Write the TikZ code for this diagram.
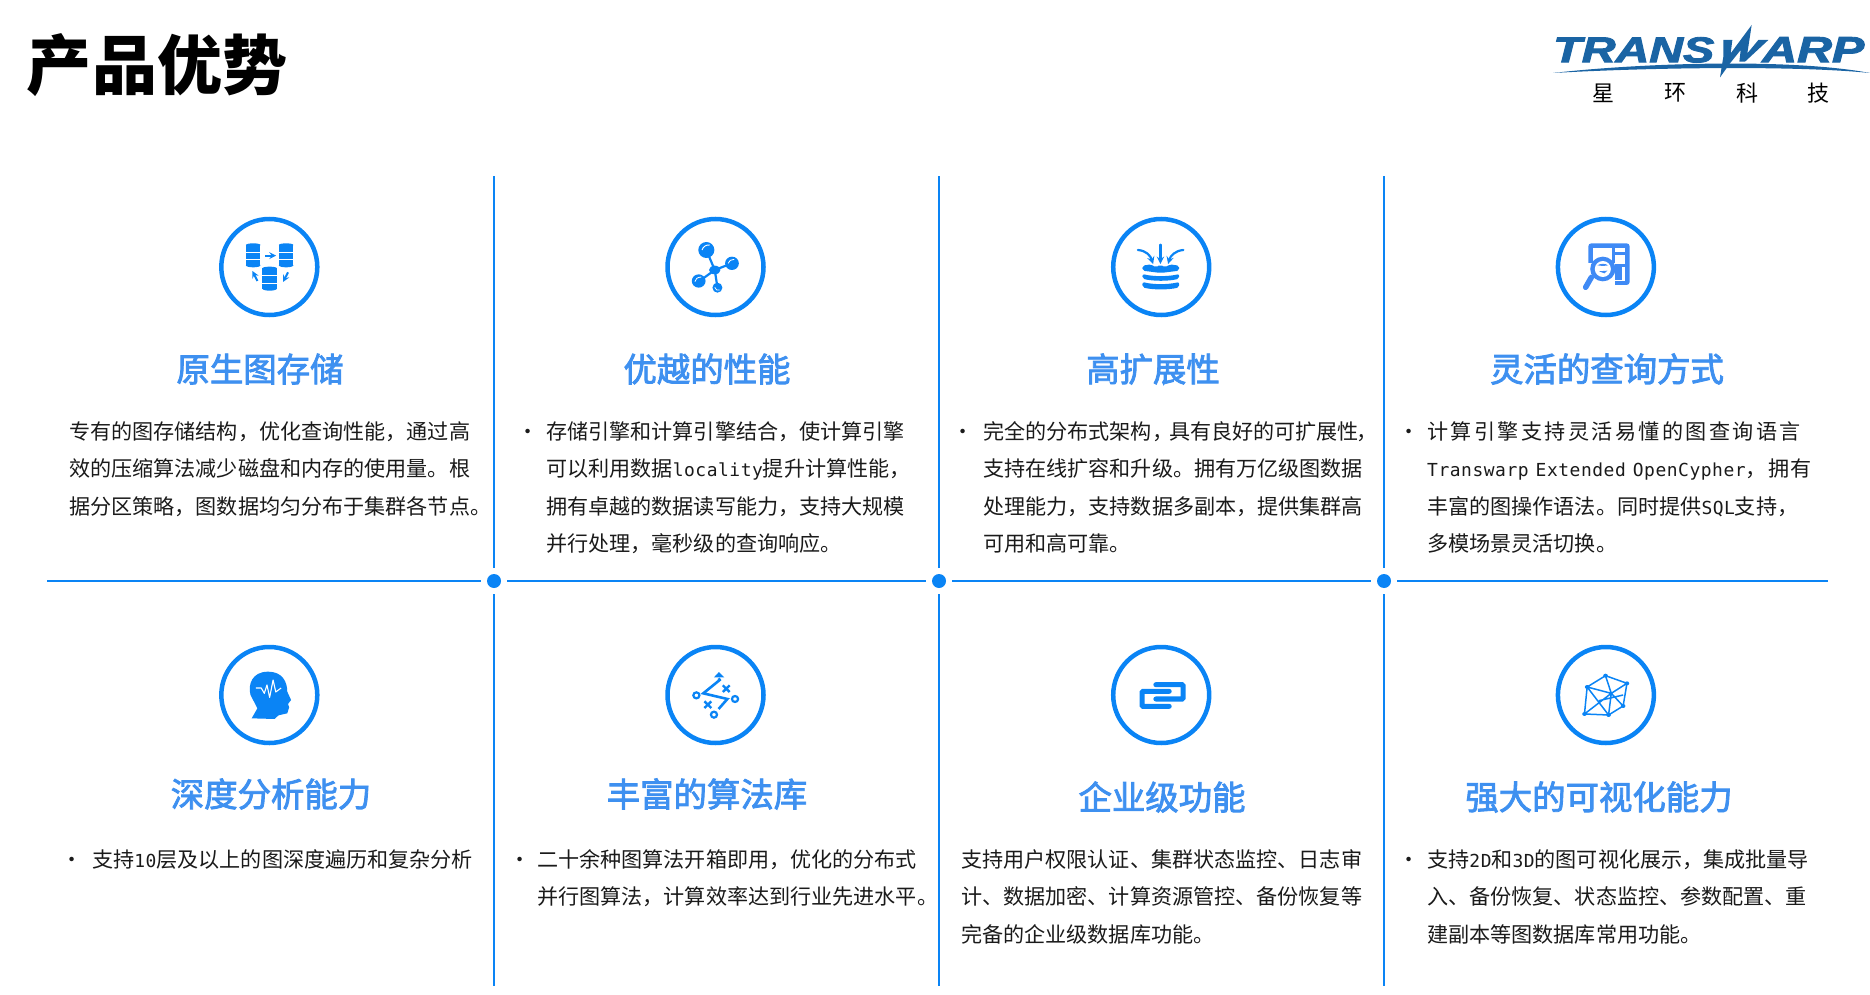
\documentclass[tikz,border=0pt]{standalone}
\usepackage{graphicx}
\usepackage{fontspec}
\setmainfont{Noto Sans CJK SC}
\newfontfamily\latf[Scale=0.85,LetterSpace=3]{DejaVu Sans Mono}
\newfontfamily\logof[BoldItalicFeatures={FakeBold=2.5}]{Liberation Sans}
\newfontfamily\headf[FakeBold=2.5]{Noto Sans CJK SC}
\XeTeXlinebreaklocale "zh"
\XeTeXlinebreakskip=0pt plus 5pt
\definecolor{line}{HTML}{0A84F5}
\definecolor{head}{HTML}{3E90F0}
\definecolor{logo}{HTML}{1A64A4}
\definecolor{txt}{HTML}{1A1A1A}
\newcommand{\fl}{\rule{0pt}{20pt}}
\newcommand{\latn}[1]{{\latf #1}}
\newcommand{\jl}[1]{{\parfillskip=0pt\noindent #1\par}}
\newcommand{\nl}[1]{{\noindent #1\par}}
\tikzset{
  sep/.style={draw=line,line width=2.4pt},
  dotn/.style={circle,fill=line,minimum size=14pt,inner sep=0pt,outer sep=6pt},
  ring/.style={circle,draw=line,line width=4.5pt,minimum size=96pt,inner sep=0pt},
  heading/.style={inner sep=0pt,text=head,font=\headf\fontsize{33.4}{38}\selectfont},
  body/.style={anchor=north west,inner sep=0pt,text=txt,text width=#1,font=\fontsize{21.1}{37.5}\selectfont},
  bul/.style={anchor=north west,inner sep=0pt,text=txt,font=\fontsize{21.1}{37.5}\selectfont},
  zoomA/.style={x=0.3827pt,y=-0.3333pt},
}
\begin{document}
\begin{tikzpicture}[x=1pt,y=-1pt]
\useasboundingbox (0,0) rectangle (1870,995);
% title + logo
\node[inner sep=0pt,font=\fontsize{65}{70}\selectfont\bfseries,text=black] (title) at (157,65) {产品优势};
\node[anchor=north west,inner sep=0pt,text=logo] (lg1) at (1553,37) {\resizebox{161pt}{25pt}{\logof\bfseries\itshape TRANS}};
\node[anchor=north west,inner sep=0pt,text=logo] (lg2) at (1762,37) {\resizebox{102pt}{25pt}{\logof\bfseries\itshape ARP}};
\begin{scope}[shift={(1690,20)},x=0.3333pt,y=-0.3333pt]
\fill[logo] (100,60)--(127,60)--(122,100)--(185,15)--(172,100)--(205,60)--(235,60)--(165,125)--(148,125)--(152,90)--(120,130)--(90,172)--(100,110)--cycle;
\end{scope}
\fill[logo] (1553,73) .. controls (1640,63) and (1790,58) .. (1870,73) .. controls (1790,65) and (1640,68) .. cycle;
\foreach \n/\x/\t in {a/1603/星,b/1675/环,c/1747/科,d/1818/技}
  \node[inner sep=0pt,font=\fontsize{22}{24}\selectfont] (lc\n) at (\x,93) {\t};
% separators
\foreach \n/\x in {1/494,2/939,3/1384} {
  \node[dotn] (d\n) at (\x,581) {};
  \coordinate (t\n) at (\x,176);
  \coordinate (b\n) at (\x,986);
  \draw[sep] (d\n) -- (t\n);
  \draw[sep] (d\n) -- (b\n);
}
\coordinate (hl) at (47,581);
\coordinate (hr) at (1828,581);
\draw[sep] (hl) -- (d1);
\draw[sep] (d1) -- (d2);
\draw[sep] (d2) -- (d3);
\draw[sep] (d3) -- (hr);
% rings
\foreach \n/\x/\y in {a/269.3/267,b/715.5/267,c/1161.2/267,d/1605.9/267,e/269.3/695,f/715.5/695,g/1161.2/695,h/1605.9/695}
  \node[ring] (r\n) at (\x,\y) {};
% icon 1: storage
\begin{scope}[shift={(200,200)},zoomA]
\foreach \a/\b in {120/130,206/130,163/200} {
  \fill[line] (\a,\b+5) rectangle (\a+38,\b+25);
  \fill[line] (\a+19,\b+5) ellipse (19 and 5);
  \fill[line] (\a,\b+28) rectangle (\a+38,\b+48);
  \fill[line] (\a,\b+51) rectangle (\a+38,\b+66);
  \fill[line] (\a+19,\b+66) ellipse (19 and 6);
}
\draw[line,line width=2pt,-stealth] (170,167) -- (199,167);
\draw[line,line width=2pt,-stealth] (150,243) -- (137,213);
\draw[line,line width=2pt,-stealth] (230,217) -- (217,246);
\end{scope}
% icon 2: molecule
\begin{scope}[shift={(200,200)},zoomA]
\draw[line,line width=2.2pt] (1345,210)--(1323,150) (1345,210)--(1390,190) (1345,210)--(1303,245) (1345,210)--(1352,262);
\fill[line] (1345,210) circle[x radius=15,y radius=13];
\fill[line] (1323,150) circle[x radius=21,y radius=24];
\fill[line] (1390,190) circle[x radius=18,y radius=20];
\fill[line] (1303,243) circle[x radius=18,y radius=20];
\fill[line] (1352,263) circle[x radius=13,y radius=15];
\draw[white,line width=0.9pt] (1312,150) .. controls (1314,140) and (1322,134) .. (1332,135);
\draw[white,line width=0.8pt] (1380,190) .. controls (1382,182) and (1388,178) .. (1396,178);
\draw[white,line width=0.8pt] (1293,245) .. controls (1294,236) and (1300,232) .. (1310,231);
\draw[white,line width=0.7pt] (1345,262) .. controls (1347,270) and (1352,272) .. (1358,270);
\end{scope}
% icon 3: compress
\begin{scope}[shift={(1090,200)},zoomA]
\draw[line,line width=2.2pt,line cap=round,-stealth] (184,134) -- (184,192);
\draw[line,line width=2.2pt,line cap=round,-stealth] (125,150) .. controls (148,152) and (158,168) .. (165,192);
\draw[line,line width=2.2pt,line cap=round,-stealth] (244,150) .. controls (222,152) and (210,168) .. (204,192);
\fill[line,rounded corners=2pt] (137,197)--(160,193)--(172,203)--(184,193)--(196,203)--(208,193)--(233,197)--(233,212)--(185,219)--(137,212)--cycle;
\fill[line,rounded corners=2pt] (137,222) .. controls (165,230) and (205,230) .. (233,222) -- (233,236) .. controls (205,244) and (165,244) .. (137,236) -- cycle;
\fill[line,rounded corners=2pt] (137,246) .. controls (165,254) and (205,254) .. (233,246) -- (233,262) .. controls (205,270) and (165,270) .. (137,262) -- cycle;
\end{scope}
% icon 4: search document
\begin{scope}[shift={(1090,200)},zoomA]
\definecolor{ic4}{HTML}{3F8AF5}
\fill[ic4,rounded corners=3pt] (1302,130) rectangle (1410,255);
\fill[white] (1315,145) rectangle (1363,200);
\fill[white] (1372,145) rectangle (1397,157);
\fill[white] (1372,165) rectangle (1397,192);
\fill[white] (1390,200) rectangle (1397,240);
\fill[white] (1302,190) rectangle (1372,255);
\fill[white] (1372,240) rectangle (1397,243);
\fill[ic4] (1340,207) circle[x radius=33,y radius=37];
\fill[white] (1340,207) circle[x radius=21,y radius=24];
\fill[ic4] (1326,196) .. controls (1334,190) and (1346,190) .. (1354,196) -- (1340,198) -- cycle;
\fill[ic4] (1330,214) -- (1352,212) -- (1344,220) -- cycle;
\draw[ic4,line width=5.5pt,line cap=round] (1310,232) -- (1295,262);
\end{scope}
% icon 5: head
\begin{scope}[shift={(200,630)},zoomA]
\fill[line] (135,265)--(150,235)--(132,195) .. controls (125,165) and (135,125) .. (178,125) .. controls (215,125) and (228,155) .. (228,185) -- (238,210)--(230,222)--(233,232)--(228,250)--(205,256)--(195,267)--cycle;
\draw[white,line width=1.1pt,line join=round] (146,174)--(160,174)--(168,190)--(175,165)--(182,202)--(191,150)--(198,186)--(212,174);
\end{scope}
% icon 6: algorithm
\begin{scope}[shift={(200,630)},zoomA]
\draw[line,line width=2.6pt] (1355,145)--(1358,150)--(1315,190)--(1378,207)--(1355,237);
\fill[line] (1343,142)--(1356,126)--(1370,142)--cycle;
\draw[line,line width=2.2pt] (1297,196) circle[x radius=8,y radius=9];
\draw[line,line width=2.2pt] (1398,207) circle[x radius=8,y radius=9];
\draw[line,line width=2.2pt] (1343,254) circle[x radius=8,y radius=9];
\draw[line,line width=2.4pt] (1366,166)--(1384,186) (1384,166)--(1366,186);
\draw[line,line width=2.4pt] (1318,214)--(1336,234) (1336,214)--(1318,234);
\end{scope}
% icon 7: link
\begin{scope}[shift={(1090,630)},zoomA]
\draw[line,line width=5pt,line cap=round,rounded corners=1pt] (172,164)--(243,164)--(243,207)--(172,207);
\draw[line,line width=5pt,line cap=round,rounded corners=1pt] (207,184)--(136,184)--(136,229)--(207,229);
\end{scope}
% icon 8: mesh
\begin{scope}[shift={(1090,630)},zoomA]
\draw[line,line width=1.5pt] (1347,137)--(1403,160)--(1393,228)--(1355,255)--(1292,252)--(1299,171)--cycle
 (1347,137)--(1362,190) (1403,160)--(1362,190) (1299,171)--(1362,190) (1362,190)--(1393,228) (1362,190)--(1355,255) (1299,171)--(1355,255) (1292,252)--(1362,190) (1330,212)--(1393,195);
\foreach \p in {(1347,137),(1403,160),(1393,228),(1355,255),(1292,252),(1299,171)}
  \fill[line] \p circle[x radius=6,y radius=6];
\end{scope}
% headings
\node[heading] (h1) at (260,369) {原生图存储};
\node[heading] (h2) at (707,369) {优越的性能};
\node[heading] (h3) at (1153,369) {高扩展性};
\node[heading] (h4) at (1607,369) {灵活的查询方式};
\node[heading] (h5) at (271,794) {深度分析能力};
\node[heading] (h6) at (707,794) {丰富的算法库};
\node[heading] (h7) at (1162,797) {企业级功能};
\node[heading] (h8) at (1599,797) {强大的可视化能力};
% body row 1
\node[body=440pt] (t1) at (69,419) {\nl{\fl 专有的图存储结构，优化查询性能，通过高}\nl{效的压缩算法减少磁盘和内存的使用量。根}\nl{据分区策略，图数据均匀分布于集群各节点。}};
\node[bul] (b2) at (517,419) {\fl •};
\node[body=380pt] (t2) at (546,419) {\nl{\fl 存储引擎和计算引擎结合，使计算引擎}\nl{可以利用数据\latn{locality}提升计算性能，}\nl{拥有卓越的数据读写能力，支持大规模}\nl{并行处理，毫秒级的查询响应。}};
\node[bul] (b3) at (952,419) {\fl •};
\node[body=420pt] (t3) at (983,419) {\nl{\fl 完全的分布式架构，\kern-4pt具有良好的可扩展性\kern-3pt，}\nl{支持在线扩容和升级。拥有万亿级图数据}\nl{处理能力，支持数据多副本，提供集群高}\nl{可用和高可靠。}};
\node[bul] (b4) at (1398.5,419) {\fl •};
\node[body=394pt] (t4) at (1427,419) {\jl{\fl 计算引擎支持灵活易懂的图查询语言}\jl{\latn{Transwarp Extended OpenCypher}，拥有}\nl{丰富的图操作语法。同时提供\latn{SQL}支持，}\nl{多模场景灵活切换。}};
% body row 2
\node[bul] (b5) at (61,847) {\fl •};
\node[body=420pt] (t5) at (92,847) {\nl{\fl 支持\latn{10}层及以上的图深度遍历和复杂分析}};
\node[bul] (b6) at (509,847) {\fl •};
\node[body=420pt] (t6) at (537,847) {\nl{\fl 二十余种图算法开箱即用，优化的分布式}\nl{并行图算法，计算效率达到行业先进水平。}};
\node[body=420pt] (t7) at (961,847) {\nl{\fl 支持用户权限认证、集群状态监控、日志审}\nl{计、数据加密、计算资源管控、备份恢复等}\nl{完备的企业级数据库功能。}};
\node[bul] (b8) at (1398.5,847) {\fl •};
\node[body=420pt] (t8) at (1427,847) {\nl{\fl 支持\latn{2D}和\latn{3D}的图可视化展示，集成批量导}\nl{入、备份恢复、状态监控、参数配置、重}\nl{建副本等图数据库常用功能。}};
\end{tikzpicture}
\end{document}
